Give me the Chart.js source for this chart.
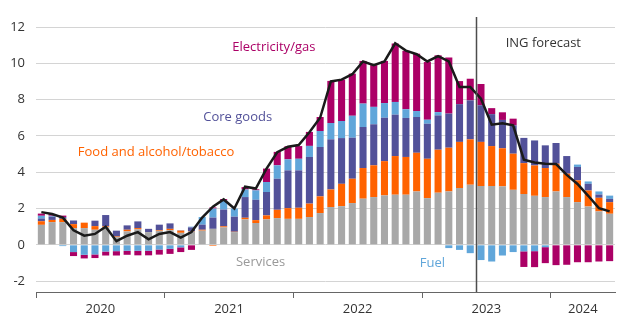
<!DOCTYPE html>
<html>
<head>
<meta charset="utf-8">
<script src="https://cdn.jsdelivr.net/npm/chart.js@4.4.1/dist/chart.umd.min.js"></script>
<style>
  html, body { margin: 0; padding: 0; background: #fff; }
  #wrap { width: 640px; height: 326px; position: relative; }
</style>
</head>
<body>
<div id="wrap"><canvas id="chart"></canvas></div>
<script>
const YEARS = ['2020', '2021', '2022', '2023', '2024'];
const MONTH_NAMES = ['Jan', 'Feb', 'Mar', 'Apr', 'May', 'Jun', 'Jul', 'Aug', 'Sep', 'Oct', 'Nov', 'Dec'];
const MONTH_COUNT = 54; // Jan 2020 .. Jun 2024
const FORECAST_FROM = 41; // Jun 2023, first forecast month
const Y_TICKS = [-2, 0, 2, 4, 6, 8, 10, 12];

// contributions to CPI inflation, percentage points
const services = [
  1.1, 1.25, 1.25, 0.92, 0.92, 0.83, 0.97, 0.42, 0.74, 0.85, 0.7, 0.77,
  0.8, 0.66, 0.72, 0.78, 0.88, 0.96, 0.7, 1.4, 1.2, 1.4, 1.47, 1.43,
  1.43, 1.53, 1.75, 2.08, 2.13, 2.3, 2.54, 2.63, 2.72, 2.76, 2.76, 2.94,
  2.57, 2.87, 2.94, 3.13, 3.31, 3.24, 3.24, 3.22, 3.03, 2.8, 2.7, 2.63,
  2.94, 2.63, 2.35, 2.11, 1.84, 1.71
];
const food = [
  0.2, 0.12, 0.18, 0.22, 0.3, 0.2, 0.05, 0.04, 0.09, 0.07, 0, 0.04,
  0.08, 0.12, 0.02, 0.05, -0.06, 0.06, 0.02, 0.09, 0.16, 0.22, 0.46, 0.59,
  0.61, 0.74, 0.92, 0.97, 1.23, 1.34, 1.69, 1.75, 1.89, 2.13, 2.08, 2.13,
  2.17, 2.37, 2.41, 2.54, 2.5, 2.43, 2.2, 2.1, 1.99, 1.7, 1.67, 1.6,
  1.53, 1.29, 1.2, 0.88, 0.75, 0.64
];
const coreGoods = [
  0.15, 0.18, 0.1, 0.2, 0, 0.3, 0.62, 0.32, 0.24, 0.37, 0.18, 0.3,
  0.3, 0.02, 0.22, 0.28, 0.62, 0.92, 0.83, 1.14, 1.12, 1.29, 1.71, 2.08,
  2.06, 2.57, 2.72, 2.76, 2.52, 2.26, 2.26, 2.26, 2.39, 2.28, 2.15, 1.97,
  1.93, 1.89, 1.88, 2.08, 2.15, 2.02, 1.76, 1.56, 1.56, 1.39, 1.38, 1.25,
  1.14, 0.97, 0.74, 0.37, 0.18, 0.18
];
const fuel = [
  0.15, 0.05, -0.07, -0.4, -0.55, -0.53, -0.37, -0.35, -0.33, -0.33, -0.33, -0.26,
  -0.22, -0.14, 0.04, 0.42, 0.5, 0.5, 0.45, 0.42, 0.52, 0.55, 0.74, 0.61,
  0.64, 0.61, 0.88, 0.9, 0.94, 1.21, 1.29, 0.96, 0.81, 0.7, 0.48, 0.33,
  0.22, 0.18, -0.18, -0.28, -0.46, -0.84, -0.92, -0.59, -0.4, -0.36, -0.35, -0.13,
  0, 0, 0.13, 0.13, 0.17, 0.18
];
const electricityGas = [
  0.12, 0.1, 0.08, -0.22, -0.2, -0.2, -0.22, -0.24, -0.22, -0.25, -0.25, -0.28,
  -0.28, -0.26, -0.28, 0, 0.06, 0.08, 0, 0.13, 0.06, 0.74, 0.74, 0.72,
  0.7, 0.77, 0.77, 2.32, 2.28, 2.32, 2.35, 2.3, 2.32, 3.22, 3.22, 3.16,
  3.18, 3.13, 3.09, 1.27, 1.19, 1.17, 0.33, 0.42, 0.37, -0.86, -0.88, -0.88,
  -1.12, -1.1, -0.96, -0.96, -0.92, -0.9
];
const headline = [
  1.8, 1.7, 1.5, 0.8, 0.5, 0.6, 1.0, 0.2, 0.5, 0.7, 0.3, 0.6,
  0.7, 0.4, 0.7, 1.5, 2.1, 2.5, 2.0, 3.2, 3.1, 4.2, 5.1, 5.4,
  5.5, 6.2, 7.0, 9.0, 9.1, 9.4, 10.1, 9.9, 10.1, 11.1, 10.7, 10.5,
  10.1, 10.4, 10.1, 8.7, 8.7, 8.05, 6.62, 6.7, 6.58, 4.69, 4.54, 4.47,
  4.45, 3.85, 3.35, 2.7, 2.02, 1.84
];

const COLORS = {
  services: '#a8a8a8',
  food: '#ff6200',
  core: '#525199',
  fuel: '#60a6da',
  energy: '#ab0066'
};

const FONT = '"Open Sans", "DejaVu Sans", sans-serif';

// month labels and where each year label sits (middle of its months)
const months = [];
YEARS.forEach(y => MONTH_NAMES.forEach(m => months.push(m + ' ' + y)));
months.length = MONTH_COUNT;
const yearLabelAt = {};
YEARS.forEach((y, i) => {
  const first = i * 12;
  const count = Math.min(12, MONTH_COUNT - first);
  yearLabelAt[first + Math.floor(count / 2)] = y;
});

// text labels placed in data space (x = month index, y = value)
const annotations = [
  { text: 'Electricity/gas', x: 17.8, y: 10.88, color: COLORS.energy },
  { text: 'Core goods', x: 15.1, y: 7.02, color: COLORS.core },
  { text: 'Food and alcohol/tobacco', x: 3.4, y: 5.09, color: COLORS.food },
  { text: 'Services', x: 18.15, y: -0.98, color: '#999999' },
  { text: 'Fuel', x: 35.3, y: -1.04, color: COLORS.fuel },
  { text: 'ING forecast', x: 43.3, y: 11.1, color: '#333333' }
];

const annotationPlugin = {
  id: 'annotations',
  afterDatasetsDraw(chart) {
    const { ctx, chartArea } = chart;
    const x = chart.scales.x, y = chart.scales.y;
    ctx.save();
    const fx = Math.round(x.getPixelForValue(FORECAST_FROM - 0.5)) + 0.5;
    ctx.strokeStyle = '#4d4d4d';
    ctx.lineWidth = 1.5;
    ctx.beginPath();
    ctx.moveTo(fx, y.getPixelForValue(12.55));
    ctx.lineTo(fx, chartArea.bottom);
    ctx.stroke();

    ctx.font = '13px ' + FONT;
    ctx.textAlign = 'left';
    ctx.textBaseline = 'middle';
    annotations.forEach(a => {
      ctx.fillStyle = a.color;
      ctx.fillText(a.text, x.getPixelForValue(a.x), y.getPixelForValue(a.y));
    });
    ctx.restore();
  }
};

function barSet(label, data, color) {
  return {
    type: 'bar',
    label,
    data,
    backgroundColor: color,
    borderWidth: 0,
    stack: 'cpi',
    order: 2,
    categoryPercentage: 1,
    barPercentage: 0.66
  };
}

new Chart(document.getElementById('chart'), {
  data: {
    labels: months,
    datasets: [
      {
        type: 'line',
        label: 'CPI',
        data: headline,
        borderColor: '#1a1a1a',
        borderWidth: 2.5,
        pointRadius: 0,
        tension: 0,
        fill: false,
        stack: 'total',
        order: 1
      },
      barSet('Services', services, COLORS.services),
      barSet('Food and alcohol/tobacco', food, COLORS.food),
      barSet('Core goods', coreGoods, COLORS.core),
      barSet('Fuel', fuel, COLORS.fuel),
      barSet('Electricity/gas', electricityGas, COLORS.energy)
    ]
  },
  options: {
    responsive: true,
    maintainAspectRatio: false,
    animation: false,
    layout: { padding: { top: 27, right: 25, bottom: 0, left: 0 } },
    plugins: {
      legend: { display: false },
      tooltip: { enabled: false }
    },
    scales: {
      x: {
        stacked: true,
        offset: true,
        afterFit: (s) => { s.height = 34; },
        border: { display: true, color: '#666666', width: 1 },
        grid: {
          offset: true,
          drawOnChartArea: false,
          drawTicks: true,
          tickLength: 6,
          color: (c) => (c.index % 12 === 0 ? '#666666' : 'rgba(0,0,0,0)')
        },
        ticks: {
          autoSkip: false,
          maxRotation: 0,
          minRotation: 0,
          padding: 3,
          labelOffset: -5.36,
          color: '#333333',
          font: { family: FONT, size: 13 },
          callback: (v, i) => yearLabelAt[i] || ''
        }
      },
      y: {
        stacked: true,
        min: -2.6,
        max: 12,
        afterFit: (s) => { s.width = 36; },
        afterBuildTicks: (s) => { s.ticks = Y_TICKS.map(v => ({ value: v })); },
        border: { display: false },
        grid: { color: '#d4d4d4', lineWidth: 1, drawTicks: false },
        ticks: {
          padding: 11,
          color: '#333333',
          font: { family: FONT, size: 13 }
        }
      }
    }
  },
  plugins: [annotationPlugin]
});
</script>
</body>
</html>
